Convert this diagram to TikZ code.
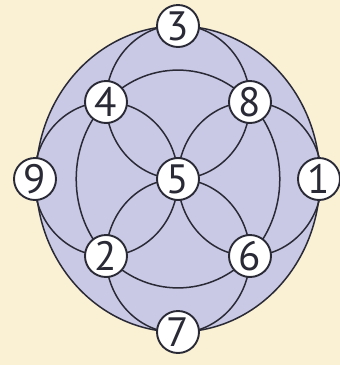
\documentclass[tikz,border=0pt]{standalone}
\usepackage{fontspec}
\setmainfont{PT Sans}
\definecolor{cream}{HTML}{FAF0D4}
\definecolor{lav}{HTML}{C9C9E6}
\definecolor{ink}{HTML}{2A2A36}
\begin{document}
\begin{tikzpicture}[x=1pt,y=-1pt,
  arc/.style={draw=ink,line width=1.5pt},
  num/.style={circle,draw=ink,line width=1.9pt,fill=white,minimum size=42pt,inner sep=0pt,
    font=\fontsize{41}{41}\selectfont,text=ink}]
\fill[cream] (0,0) rectangle (340,365);
\useasboundingbox (0,0) rectangle (340,365);
% outer ellipse
\filldraw[fill=lav,arc] (178,179) ellipse [x radius=142, y radius=153];
% inner ellipse
\draw[arc] (178,179) ellipse [x radius=101.8, y radius=108.9];
% petals
\draw[arc] (178,102) ellipse [x radius=72, y radius=77];
\draw[arc] (178,256) ellipse [x radius=72, y radius=77];
\draw[arc] (106,179) ellipse [x radius=72, y radius=77];
\draw[arc] (250,179) ellipse [x radius=72, y radius=77];
% nodes
\node[num] (n3) at (178,26) {3};
\node[num] (n4) at (106,102) {4};
\node[num] (n8) at (250,102) {8};
\node[num] (n9) at (35,179) {9};
\node[num] (n5) at (178,179) {5};
\node[num] (n1) at (319,179) {1};
\node[num] (n2) at (106,256) {2};
\node[num] (n6) at (250,256) {6};
\node[num] (n7) at (178,332) {7};
\end{tikzpicture}
\end{document}
